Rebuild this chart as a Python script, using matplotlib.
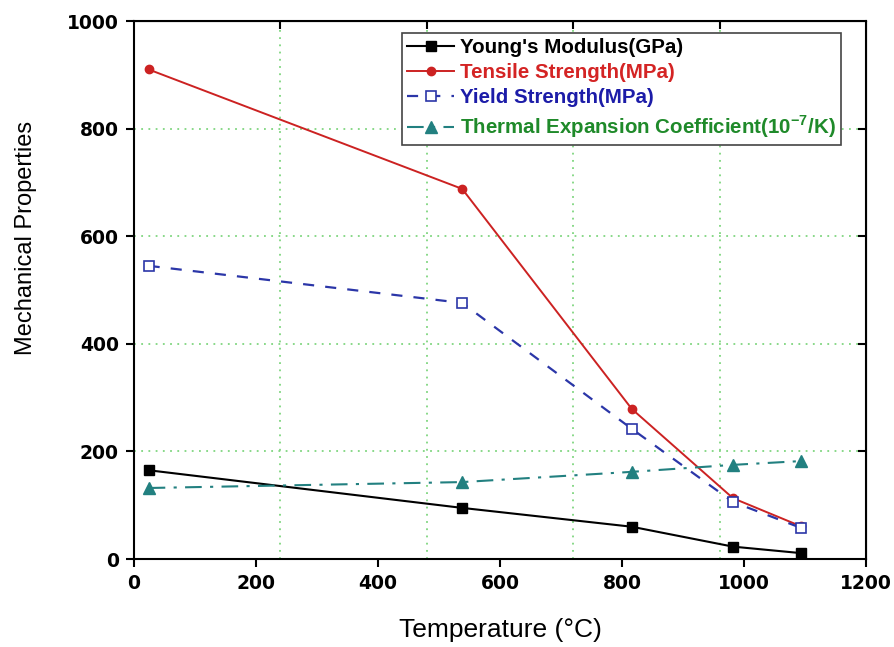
import numpy as np
import matplotlib
matplotlib.use("Agg")
import matplotlib.pyplot as plt

plt.rcParams["font.family"] = ["Liberation Sans", "DejaVu Sans"]
plt.rcParams["mathtext.fontset"] = "custom"
plt.rcParams["mathtext.rm"] = "Liberation Sans"
plt.rcParams["mathtext.bf"] = "Liberation Sans:bold"

# temperatures (degC) and properties
temp = [24, 538, 816, 982, 1093]
youngs = [165, 95, 60, 23, 11]
tensile = [910, 688, 279, 113, 61]
yield_s = [545, 476, 242, 106, 58]
thermal = [132, 143, 162, 175, 182]

labels = ["Young's Modulus(GPa)", "Tensile Strength(MPa)", "Yield Strength(MPa)",
          r"Thermal Expansion Coefficient(10$^{\mathbf{-7}}$/K)"]
text_colors = ["black", "#d42424", "#1c1ca8", "#1f8a2a"]

fig = plt.figure(figsize=(8.95, 6.47), dpi=100)
ax = fig.add_axes([0.1497, 0.136, 0.8179, 0.8315])

grid_kw = dict(color="#7fd67f", linestyle=(0, (1, 3)), linewidth=1.3, zorder=0)
for gx in np.arange(240, 1200, 240):
    ax.axvline(gx, **grid_kw)
for gy in np.arange(200, 1000, 200):
    ax.axhline(gy, **grid_kw)

ax.plot(temp, youngs, "-s", color="black", lw=1.5, ms=6.5, label=labels[0], zorder=3)
ax.plot(temp, tensile, "-o", color="#cc2222", lw=1.4, ms=6, label=labels[1], zorder=3)
ax.plot(temp, yield_s, "s", color="#2b36a8", ls=(0, (5, 5)), lw=1.6, ms=6.5,
        mfc="white", mec="#2b36a8", mew=1.2, label=labels[2], zorder=4)
ax.plot(temp, thermal, "^", color="#228080", ls=(0, (8, 4, 1.5, 4)), lw=1.5, ms=8,
        label=labels[3], zorder=3)

ax.set_xlim(0, 1200)
ax.set_ylim(0, 1000)
ax.set_xticks(np.arange(0, 1201, 200))
ax.set_yticks(np.arange(0, 1001, 200))
ax.tick_params(direction="out", length=6, width=1.5, labelsize=13.5, pad=5)
for lab in ax.get_xticklabels() + ax.get_yticklabels():
    lab.set_fontweight("bold")
    lab.set_family("DejaVu Sans")
for s in ax.spines.values():
    s.set_linewidth(1.5)

top = ax.secondary_xaxis("top")
top.set_xticks(np.arange(240, 1200, 240))
top.tick_params(direction="in", length=6, width=1.5, labeltop=False)
right = ax.secondary_yaxis("right")
right.set_yticks(np.arange(200, 1000, 200))
right.tick_params(direction="in", length=6, width=1.5, labelright=False)

ax.set_xlabel("Temperature (\u00b0C)", fontsize=19, labelpad=18)
ax.set_ylabel("Mechanical Properties", fontsize=17)
ax.yaxis.set_label_coords(-0.133, 0.597)

leg = ax.legend(loc="upper left", bbox_to_anchor=(0.366, 0.978), borderaxespad=0,
                prop={"weight": "bold", "size": 14.8}, handlelength=2.3,
                handletextpad=0.3, labelspacing=0.3, borderpad=0.25,
                fancybox=False, framealpha=1, edgecolor="#444444")
leg.get_frame().set_linewidth(1.2)
for t, c in zip(leg.get_texts(), text_colors):
    t.set_color(c)

fig.savefig("out.png", dpi=100)
